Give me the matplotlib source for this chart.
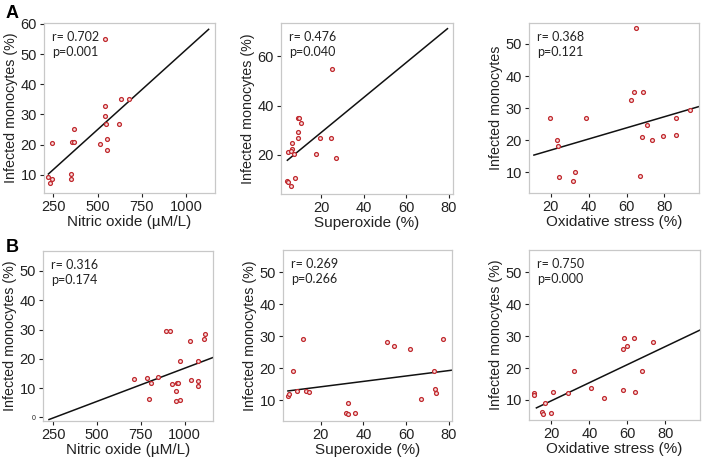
import matplotlib
matplotlib.use("Agg")
import matplotlib.pyplot as plt

plt.rcParams['font.family'] = ['Liberation Sans', 'DejaVu Sans']

# ---- data ----
a1_x = [218, 241, 233, 244, 348, 347, 357, 365, 369, 512, 544, 542, 550, 554, 552, 540, 623, 633, 676]
a1_y = [9.2, 8.8, 7.3, 20.5, 10.2, 8.7, 21.0, 21.0, 25.1, 20.3, 32.8, 29.4, 26.9, 21.9, 18.2, 55.1, 26.9, 35.0, 35.0]
a1_fit_x = [222, 1128]
a1_fit_y = [10.3, 58.2]

a2_x = [25.0, 9.3, 9.8, 10.7, 8.9, 9.2, 19.5, 24.7, 6.5, 6.5, 4.6, 5.9, 7.3, 17.5, 27.2, 7.5, 3.9, 4.5, 5.9]
a2_y = [54.8, 35.0, 35.0, 33.0, 29.2, 26.8, 26.8, 26.8, 25.0, 22.2, 21.0, 21.5, 20.5, 20.5, 18.6, 10.5, 9.3, 9.1, 7.5]
a2_fit_x = [4.1, 79.4]
a2_fit_y = [17.8, 71.2]

a3_x = [64.8, 64.0, 68.6, 62.6, 93.5, 19.7, 38.7, 86.0, 70.6, 86.0, 79.3, 68.0, 73.3, 23.2, 23.7, 24.2, 32.5, 31.5, 67.3]
a3_y = [54.8, 34.9, 34.9, 32.6, 29.3, 26.9, 26.9, 26.9, 24.8, 21.8, 21.2, 20.9, 20.2, 20.2, 18.3, 8.5, 10.0, 7.2, 8.9]
a3_fit_x = [11.0, 98.3]
a3_fit_y = [15.4, 30.5]

b1_x = [892, 916, 1114, 1111, 1032, 971, 1074, 850, 784, 713, 1035, 1073, 810, 928, 957, 963, 1073, 953, 795, 971, 953]
b1_y = [29.5, 29.5, 28.5, 26.8, 26.1, 19.2, 19.2, 13.9, 13.6, 13.0, 12.9, 12.6, 11.7, 11.5, 11.6, 11.7, 10.6, 9.2, 6.2, 6.0, 5.5]
b1_fit_x = [227, 1167]
b1_fit_y = [-0.7, 20.6]

b2_x = [11.6, 51.0, 54.3, 61.7, 77.3, 7.1, 72.8, 73.3, 73.7, 67.0, 8.9, 13.1, 14.7, 4.7, 5.3, 32.8, 31.8, 32.9, 36.2]
b2_y = [29.3, 28.2, 26.9, 25.9, 29.3, 19.1, 19.1, 13.5, 12.3, 10.4, 12.8, 13.0, 12.7, 11.3, 12.1, 9.1, 6.1, 5.7, 6.0]
b2_fit_x = [4.7, 81.4]
b2_fit_y = [12.9, 19.4]

b3_x = [58.0, 63.6, 73.6, 59.6, 57.8, 32.1, 67.5, 40.9, 57.7, 64.1, 20.7, 28.8, 10.7, 10.7, 47.6, 16.6, 15.2, 15.8, 19.8]
b3_y = [29.4, 29.4, 28.3, 26.9, 26.0, 19.2, 19.2, 13.8, 13.2, 12.6, 12.6, 12.3, 12.2, 11.5, 10.5, 9.0, 6.2, 5.7, 6.0]
b3_fit_x = [12.1, 98.3]
b3_fit_y = [7.5, 31.9]

stats = [("r= 0.702", "p=0.001"), ("r= 0.476", "p=0.040"), ("r= 0.368", "p=0.121"),
         ("r= 0.316", "p=0.174"), ("r= 0.269", "p=0.266"), ("r= 0.750", "p=0.000")]
xlabels = ["Nitric oxide (\u00b5M/L)", "Superoxide (%)", "Oxidative stress (%)"] * 2
ylabels = ["Infected monocytes (%)", "Infected monocytes (%)", "Infected monocytes",
           "Infected monocytes (%)", "Infected monocytes (%)", "Infected monocytes (%)"]

xticks = [[250, 500, 750, 1000], [20, 40, 60, 80], [20, 40, 60, 80],
          [250, 500, 750, 1000], [20, 40, 60, 80], [20, 40, 60, 80]]
yticks = [[10, 20, 30, 40, 50, 60], [20, 40, 60], [10, 20, 30, 40, 50],
          [0, 10, 20, 30, 40, 50], [10, 20, 30, 40, 50], [10, 20, 30, 40, 50]]

xlims = [(197, 1164), (1.1, 82), (8.4, 98.3), (193, 1161), (2.4, 81.4), (8.2, 98.3)]
ylims = [(4, 60.3), (4.1, 73.5), (3.6, 56.5), (-1.2, 56.8), (3.5, 57), (3.7, 57)]

# axes boxes in pixels: left, right, top, bottom
boxes = [(44, 215, 23, 193), (281, 453, 23, 194), (529, 699, 23, 193),
         (43, 213, 251, 421), (283, 452, 250, 421), (529, 700, 250, 420)]

xs = [a1_x, a2_x, a3_x, b1_x, b2_x, b3_x]
ys = [a1_y, a2_y, a3_y, b1_y, b2_y, b3_y]
fxs = [a1_fit_x, a2_fit_x, a3_fit_x, b1_fit_x, b2_fit_x, b3_fit_x]
fys = [a1_fit_y, a2_fit_y, a3_fit_y, b1_fit_y, b2_fit_y, b3_fit_y]

W, H = 705, 461
fig = plt.figure(figsize=(W / 100, H / 100), dpi=100)

for i in range(6):
    l, r, t, b = boxes[i]
    ax = fig.add_axes([l / W, 1 - b / H, (r - l) / W, (b - t) / H])
    ax.plot(fxs[i], fys[i], color='#111111', lw=1.1, zorder=2)
    ax.plot(xs[i], ys[i], 'o', ms=2.8, mfc='#f8e0e0', mec='#c0282d', mew=0.9, zorder=3, clip_on=False)
    ax.set_xlim(*xlims[i])
    ax.set_ylim(*ylims[i])
    ax.set_xticks(xticks[i])
    ax.set_yticks(yticks[i])
    ax.tick_params(axis='both', labelsize=10.5, color='#222222', length=3, width=0.8,
                   labelcolor='#222222', pad=2)
    for s in ax.spines.values():
        s.set_color('#c8c8c8')
        s.set_linewidth(0.9)
    ax.set_xlabel(xlabels[i], fontsize=11, color='#222222', labelpad=1)
    ax.set_ylabel(ylabels[i], fontsize=10.3, color='#222222', labelpad=2)
    if i == 3:
        for lab in ax.get_yticklabels():
            if lab.get_text() == '0':
                lab.set_fontsize(5)
    r_s, p_s = stats[i]
    ax.annotate(r_s, xy=(0, 1), xycoords='axes fraction', xytext=(8, -14),
                textcoords='offset pixels', fontsize=9, va='center', ha='left',
                family=['Lato', 'DejaVu Sans'], color='#222222')
    ax.annotate(p_s, xy=(0, 1), xycoords='axes fraction', xytext=(8, -29),
                textcoords='offset pixels', fontsize=9, va='center', ha='left',
                family=['Lato', 'DejaVu Sans'], color='#222222')

fig.text(12 / W, 1 - 13 / H, "A", fontsize=13, fontweight='bold', ha='center', va='center')
fig.text(12 / W, 1 - 247 / H, "B", fontsize=13, fontweight='bold', ha='center', va='center')

fig.savefig("out.png", dpi=100)
